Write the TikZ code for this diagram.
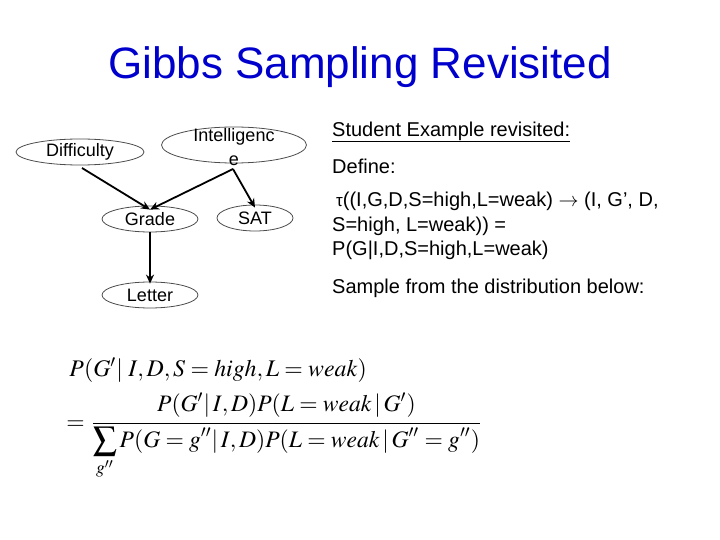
\documentclass[tikz,border=0pt]{standalone}
\usepackage{amsmath}
\usepackage{mathptmx}
\usepackage[no-math]{fontspec}
\setmainfont{Liberation Sans}
\usetikzlibrary{shapes.geometric,arrows.meta}
\definecolor{titleblue}{RGB}{0,0,204}
\begin{document}
\begin{tikzpicture}[x=1pt,y=-1pt,
  var/.style={ellipse,draw=black!70,line width=0.8pt,inner sep=0pt,minimum height=26,font=\fontsize{18}{20}\selectfont},
  arr/.style={line width=1.8pt,-{Stealth[length=9pt,width=8pt]}},
  txt/.style={anchor=base west,inner sep=0pt,font=\fontsize{20}{23}\selectfont}]
\useasboundingbox (0,0) rectangle (720,540);
\node[text=titleblue,font=\fontsize{44}{50}\selectfont] (title) at (360,67) {Gibbs Sampling Revisited};
% network
\node[var,minimum width=128] (diff) at (80,152) {Difficulty};
\node[var,minimum width=145,minimum height=36] (intel) at (234,145) {};
\node[align=center,inner sep=0pt,font=\fontsize{18}{24}\selectfont] (intellbl) at (234,147) {Intelligenc\\e};
\node[var,minimum width=96] (grade) at (150,219) {Grade};
\node[var,minimum width=76] (sat) at (255,218) {SAT};
\node[var,minimum width=96] (letter) at (150,295) {Letter};
\coordinate (ibot) at (233,169);
\coordinate (dbot) at (82,168);
\draw[arr] (dbot) -- ([yshift=-4pt]grade.north);
\draw[arr] (ibot) -- ([yshift=-4pt]grade.north);
\draw[arr] (ibot) -- ([yshift=-3pt]sat.north);
\draw[arr] (grade) -- ([yshift=-2pt]letter.north);
% right text
\node[txt] (head) at (332,137) {Student Example revisited:};
\draw[line width=0.8pt] ([yshift=-4pt]head.base west) -- ([yshift=-4pt]head.base east);
\node[txt] (def) at (332,174) {Define:};
\node[txt] (l1) at (336,207) {\fontsize{17}{20}\selectfont τ\fontsize{20}{23}\selectfont((I,G,D,S=high,L=weak) $\rightarrow$ (I, G’, D,};
\node[txt] (l2) at (332,231) {S=high, L=weak)) =};
\node[txt] (l3) at (332,255) {P(G|I,D,S=high,L=weak)};
\node[txt] (samp) at (332,293) {Sample from the distribution below:};
% formula
\node[anchor=west,inner sep=0pt,scale=2.38] (f1) at (69,370) {$P(G'|\;I,D,S=high,L=weak)$};
\node[anchor=west,inner sep=0pt,scale=2.36] (f2) at (66,436) {$=\dfrac{P(G'|\,I,D)P(L=weak\,|\,G')\rule[-4pt]{0pt}{4pt}}{\displaystyle\sum_{g''}P(G=g''|\,I,D)P(L=weak\,|\,G''=g'')}$};
\end{tikzpicture}
\end{document}
